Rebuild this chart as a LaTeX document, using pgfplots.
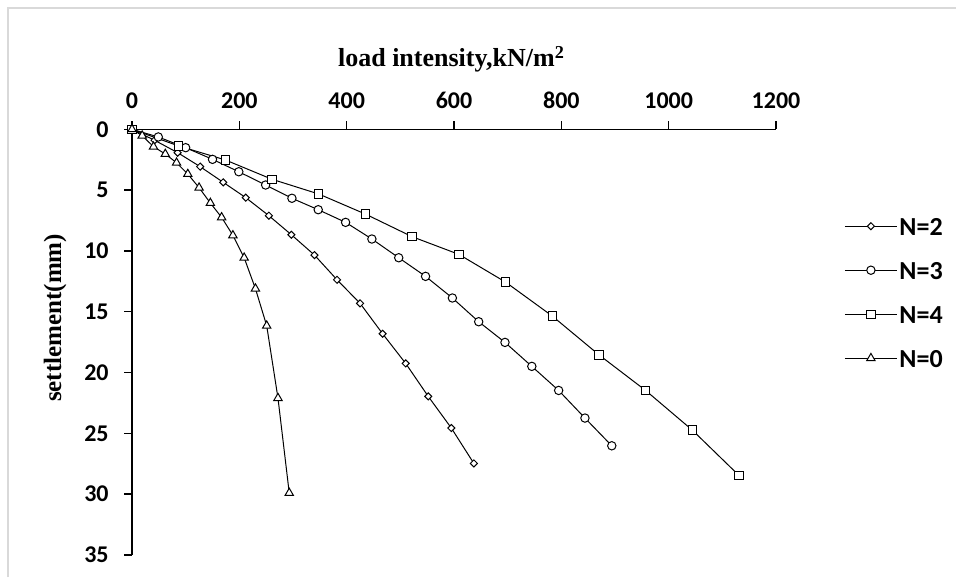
\documentclass[border=0pt]{standalone}
\usepackage{pgfplots}
\pgfplotsset{compat=1.18}
\usepackage{pgfplotstable}
\usepackage{fontspec}
\setmainfont{Liberation Serif}
\newfontfamily\carlito{Carlito}

% load (kN/m^2) versus settlement (mm)
\pgfplotstableread{
x y
0 0
42 0.90
85 1.92
127 3.07
170 4.36
212 5.62
255 7.10
297 8.67
340 10.34
382 12.37
425 14.31
467 16.81
510 19.25
552 21.96
595 24.56
637 27.47
}\ntwo
\pgfplotstableread{
x y
0 0
49 0.63
100 1.51
150 2.47
199 3.49
249 4.58
298 5.67
347 6.61
398 7.65
447 9.02
497 10.56
547 12.09
597 13.87
646 15.82
695 17.52
745 19.49
795 21.47
844 23.74
894 26.02
}\nthree
\pgfplotstableread{
x y
0 0
87 1.37
174 2.52
261 4.11
348 5.32
435 6.97
522 8.83
609 10.28
696 12.56
783 15.35
870 18.54
957 21.47
1044 24.73
1131 28.46
}\nfour
\pgfplotstableread{
x y
0 0
19 0.52
40 1.43
62 2.03
83 2.75
104 3.68
125 4.80
146 6.06
167 7.24
188 8.72
209 10.56
230 13.10
251 16.15
272 22.10
293 29.90
}\nzero

\begin{document}
\begin{tikzpicture}
\useasboundingbox (0pt,0pt) rectangle (478pt,-288.5pt);
\draw[gray!30, line width=0.75pt] (4pt,-288.5pt) -- (4pt,-4pt) -- (478pt,-4pt);
% positions measured from the axis' upper left corner
\coordinate (titlepos) at (159.75pt,31.2pt);
\coordinate (ylabpos) at (-38.5pt,-94.35pt);
\coordinate (legpos) at (356pt,-44.6pt);
\begin{axis}[
  at={(66pt,-64.65pt)}, anchor=north west,
  scale only axis, width=322pt, height=212.85pt,
  xmin=0, xmax=1200, ymin=0, ymax=35,
  y dir=reverse,
  axis x line=top, axis y line=left,
  axis line style={-, black, line width=0.75pt},
  xtick={0,200,...,1200}, ytick={0,5,...,35},
  tick align=outside, major tick length=4pt,
  tick style={black, line width=0.75pt},
  /pgf/number format/assume math mode=true,
  /pgf/number format/1000 sep={},
  ticklabel style={font=\carlito\bfseries\fontsize{12}{14}\selectfont, inner sep=0pt},
  xticklabel shift=6pt, yticklabel shift=7.5pt,
  xlabel={load intensity,kN/m\textsuperscript{2}},
  xlabel style={at={(titlepos)}, anchor=base, font=\bfseries\fontsize{13}{15}\selectfont},
  ylabel={settlement(mm)},
  ylabel style={at={(ylabpos)}, anchor=center, font=\bfseries\fontsize{12.5}{15}\selectfont},
  legend style={at={(legpos)}, anchor=north west, draw=none, fill=none,
    inner sep=0pt, row sep=13.5pt, column sep=1pt,
    font=\carlito\bfseries\fontsize{13}{15}\selectfont,
    nodes={inner sep=0pt, text height=8.5pt, text depth=0pt}},
  legend cell align=left,
  legend image code/.code={\draw[#1, yshift=0.6pt, mark repeat=2, mark phase=2]
    plot coordinates {(0pt,0pt) (13pt,0pt) (26pt,0pt)};},
  every axis plot/.append style={black, line width=0.5pt},
  clip=false,
]
\addplot[mark=square*, mark size=1.25pt,
  mark options={rotate=45, fill=white, solid, line width=0.5pt}] table[x=x,y=y] {\ntwo};
\addlegendentry{N=2}
\addplot[mark=*, mark size=2.1pt,
  mark options={fill=white, solid, line width=0.5pt}] table[x=x,y=y] {\nthree};
\addlegendentry{N=3}
\addplot[mark=square*, mark size=2.1pt,
  mark options={fill=white, solid, line width=0.5pt}] table[x=x,y=y] {\nfour};
\addlegendentry{N=4}
\addplot[mark=triangle*, mark size=2.4pt,
  mark options={fill=white, solid, line width=0.5pt}] table[x=x,y=y] {\nzero};
\addlegendentry{N=0}
\end{axis}
\end{tikzpicture}
\end{document}
